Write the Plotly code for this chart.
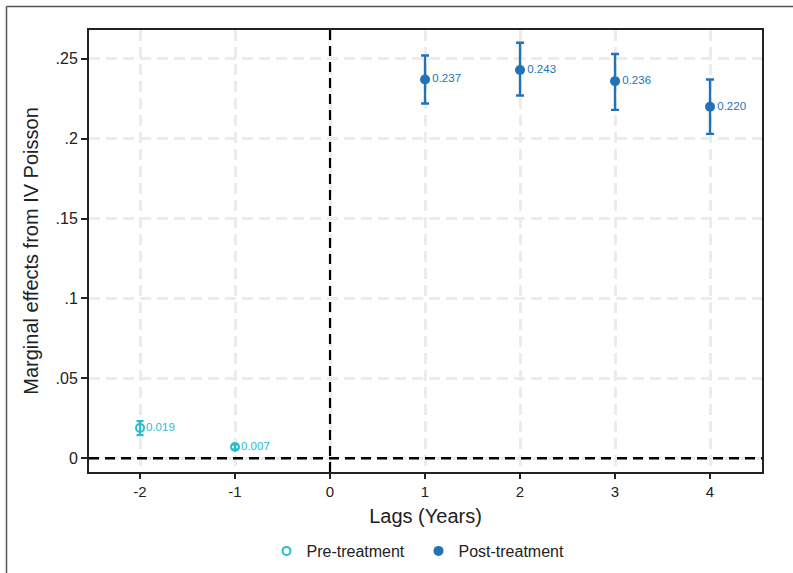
import plotly.graph_objects as go

# Data
pre_lags = [-2, -1]
pre_est = [0.019, 0.007]
pre_lo = [0.0145, 0.0055]
pre_hi = [0.0232, 0.0085]

post_lags = [1, 2, 3, 4]
post_est = [0.237, 0.243, 0.236, 0.220]
post_lo = [0.222, 0.227, 0.218, 0.203]
post_hi = [0.252, 0.260, 0.253, 0.237]

x_ticks = [-2, -1, 0, 1, 2, 3, 4]
y_ticks = [0, 0.05, 0.10, 0.15, 0.20, 0.25]
y_tick_labels = ["0", ".05", ".1", ".15", ".2", ".25"]

PRE_COLOR = "#2bbccd"
POST_COLOR = "#2273b5"
FONT = "Liberation Sans, Arial, sans-serif"

fig = go.Figure()

fig.add_trace(go.Scatter(
    x=pre_lags, y=pre_est, mode="markers+text", name="Pre-treatment",
    marker=dict(symbol="circle-open", size=8, color=PRE_COLOR, line=dict(width=2, color=PRE_COLOR)),
    error_y=dict(type="data", symmetric=False,
                 array=[h - e for h, e in zip(pre_hi, pre_est)],
                 arrayminus=[e - l for e, l in zip(pre_est, pre_lo)],
                 color=PRE_COLOR, thickness=2.2, width=3.5),
    text=[f"{v:.3f}" for v in pre_est], textposition="middle right",
    textfont=dict(family=FONT, size=11.5, color=PRE_COLOR),
))

fig.add_trace(go.Scatter(
    x=post_lags, y=post_est, mode="markers+text", name="Post-treatment",
    marker=dict(symbol="circle", size=10, color=POST_COLOR),
    error_y=dict(type="data", symmetric=False,
                 array=[h - e for h, e in zip(post_hi, post_est)],
                 arrayminus=[e - l for e, l in zip(post_est, post_lo)],
                 color=POST_COLOR, thickness=2.4, width=4),
    text=[f"{v:.3f}" for v in post_est], textposition="middle right",
    textfont=dict(family=FONT, size=11.5, color=POST_COLOR),
))

L, R, T, B = 89, 31, 30, 101
W, H = 793, 573
pw, ph = W - L - R, H - T - B
bx = (6.5 - L) / pw
by = (H - B - 6.5) / ph
rx = (W + 5 - L) / pw

GRID = dict(showgrid=True, gridcolor="#ececec", griddash="11px,6px", gridwidth=2.5)

fig.update_layout(
    width=W, height=H,
    margin=dict(l=L, r=R, t=T, b=B, pad=0, autoexpand=False),
    plot_bgcolor="white", paper_bgcolor="white",
    font=dict(family=FONT, size=16, color="#222222"),
    showlegend=True,
    legend=dict(orientation="h", xref="paper", x=0.5 - 7 / pw, xanchor="center",
                yref="container", y=1 - 551 / H, yanchor="middle",
                entrywidth=107, entrywidthmode="pixels",
                font=dict(size=16, color="#222222")),
    xaxis=dict(range=[-2.537, 4.547], tickvals=x_ticks, ticktext=[str(t) for t in x_ticks],
               tickfont=dict(size=15), automargin=False, **GRID,
               zeroline=False, showline=True, linecolor="#222222", linewidth=2, mirror=True,
               ticks="outside", ticklen=5, tickcolor="#222222", tickwidth=1.5,
               title=dict(text="Lags (Years)", font=dict(size=20), standoff=10)),
    yaxis=dict(range=[-0.0086, 0.268], tickvals=y_ticks, ticktext=y_tick_labels,
               tickfont=dict(size=16), automargin=False, **GRID,
               zeroline=False, showline=True, linecolor="#222222", linewidth=2, mirror=True,
               ticks="outside", ticklen=6, tickcolor="#222222", tickwidth=1.5,
               title=dict(text="Marginal effects from IV Poisson", font=dict(size=20), standoff=12)),
    shapes=[
        dict(type="line", xref="x", yref="paper", x0=0, x1=0, y0=0, y1=1,
             line=dict(color="black", width=2.2, dash="10px,6px")),
        dict(type="line", xref="paper", yref="y", x0=0, x1=1, y0=0, y1=0,
             line=dict(color="black", width=2.6, dash="10px,6px")),
        dict(type="line", xref="paper", yref="paper", x0=bx, x1=bx, y0=-0.3, y1=by,
             line=dict(color="#555555", width=1.5)),
        dict(type="line", xref="paper", yref="paper", x0=bx, x1=rx, y0=by, y1=by,
             line=dict(color="#555555", width=1.5)),
    ],
)

# remove the browser's default 8px body margin so the figure sits at the page origin
fig.write_html("out.html", config={"displayModeBar": False},
               post_script="document.body.style.margin='0px';")
